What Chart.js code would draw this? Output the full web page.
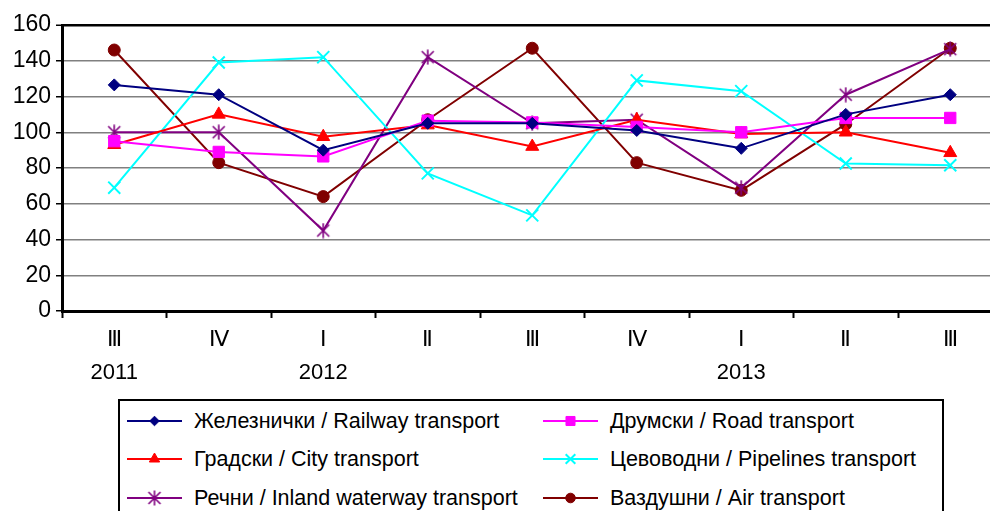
<!DOCTYPE html>
<html>
<head>
<meta charset="utf-8">
<script src="https://cdn.jsdelivr.net/npm/chart.js@4/dist/chart.umd.min.js"></script>
<style>
  html, body { margin: 0; padding: 0; background: #fff; }
  #wrap { position: relative; width: 990px; height: 511px; overflow: hidden; background: #fff; }
  #myChart { position: absolute; left: 0; top: 0; }
  #legend {
    position: absolute; left: 118px; top: 399px; width: 826px; height: 140px;
    box-sizing: border-box; border: 2px solid #000; background: #fff;
    font-family: "Liberation Sans", Arial, sans-serif; font-size: 21.5px; color: #000;
  }
  .item { position: absolute; height: 24px; line-height: 24px; white-space: nowrap; }
  .item canvas { position: absolute; left: 0; top: 0; }
  .item span { position: absolute; top: 0; }
</style>
</head>
<body>
<div id="wrap">
  <canvas id="myChart" width="1013" height="400"></canvas>
  <div id="legend"></div>
</div>
<script>
"use strict";

//Categories: quarters and the year under the first quarter shown of each year.
var quarters = ["Ⅲ", "Ⅳ", "Ⅰ", "Ⅱ", "Ⅲ", "Ⅳ", "Ⅰ", "Ⅱ", "Ⅲ"];
var years = ["2011", "", "2012", "", "", "", "2013", "", ""];

//Series values (indices).
var railway = [126.5, 121, 90, 105, 105, 101, 91, 110, 121];
var road = [95, 89, 86.5, 106.5, 105.5, 103, 100, 108, 108];
var city = [93, 110, 97.5, 104, 92, 107, 99, 100, 88.5];
var pipelines = [69, 139, 142, 77, 53.5, 129, 123, 82.5, 81.5];
var inland = [100, 100, 45, 142, 105, 107, 69, 121, 146.5];
var air = [146, 83, 64, 107, 147, 83, 67.5, 104.5, 147];

var seriesNames = [
    "Железнички / Railway transport",
    "Друмски / Road transport",
    "Градски / City transport",
    "Цевоводни / Pipelines transport",
    "Речни / Inland waterway transport",
    "Вазду\u0448ни / Air transport"
];

var yTicks = [0, 20, 40, 60, 80, 100, 120, 140, 160];

var FONT = "'Liberation Sans', Arial, sans-serif";

//Excel style asterisk marker (an X with a vertical bar).
function makeStar(color) {
    var c = document.createElement('canvas');
    c.width = 16;
    c.height = 16;
    var g = c.getContext('2d');
    g.strokeStyle = color;
    g.lineWidth = 1.6;
    g.beginPath();
    g.moveTo(2, 2); g.lineTo(14, 14);
    g.moveTo(14, 2); g.lineTo(2, 14);
    g.moveTo(8, 0.5); g.lineTo(8, 15.5);
    g.stroke();
    return c;
}

var labels = [];
for (var i = 0; i < quarters.length; i++) {
    labels.push([quarters[i], years[i]]);
}

function ds(label, data, color, style, radius, borderW) {
    return {
        label: label,
        data: data,
        borderColor: color,
        backgroundColor: color,
        pointBackgroundColor: color,
        pointBorderColor: color,
        pointStyle: style,
        pointRadius: radius,
        pointHoverRadius: radius,
        pointBorderWidth: borderW,
        borderWidth: 2,
        tension: 0,
        fill: false
    };
}

var datasets = [
    ds(seriesNames[0], railway, "#000080", "rectRot", 6, 1),
    ds(seriesNames[1], road, "#FF00FF", "rect", 8, 1),
    ds(seriesNames[2], city, "#FF0000", "triangle", 7.5, 1),
    ds(seriesNames[3], pipelines, "#00FFFF", "crossRot", 8.5, 2),
    ds(seriesNames[4], inland, "#800080", makeStar("#800080"), 8, 1),
    ds(seriesNames[5], air, "#800000", "circle", 6, 1)
];

var ctx = document.getElementById('myChart').getContext('2d');
var myChart = new Chart(ctx, {
    type: 'line',
    data: { labels: labels, datasets: datasets },
    options: {
        responsive: false,
        animation: false,
        devicePixelRatio: 1,
        layout: { padding: { top: 25, left: 0, right: 0, bottom: 0 } },
        plugins: { legend: { display: false }, tooltip: { enabled: false } },
        scales: {
            x: {
                offset: true,
                grid: {
                    offset: true,
                    drawOnChartArea: false,
                    drawTicks: true,
                    tickLength: 7,
                    tickColor: "#000",
                    tickWidth: 2
                },
                border: { color: "#000", width: 3 },
                ticks: {
                    autoSkip: false,
                    maxRotation: 0,
                    minRotation: 0,
                    padding: 5,
                    color: "#000",
                    font: { family: FONT, size: 22, lineHeight: 1.5 }
                },
                afterFit: function (scale) { scale.height = 89; }
            },
            y: {
                min: 0,
                max: 160,
                afterBuildTicks: function (scale) {
                    scale.ticks = yTicks.map(function (v) { return { value: v }; });
                },
                grid: {
                    color: function (c) { return c.tick && c.tick.value === 160 ? "#000" : "#808080"; },
                    lineWidth: function (c) { return c.tick && c.tick.value === 160 ? 2.5 : 1.5; },
                    tickLength: 6,
                    tickColor: "#000",
                    tickWidth: 1.5
                },
                border: { color: "#000", width: 3 },
                ticks: {
                    padding: 5,
                    color: "#000",
                    font: { family: FONT, size: 23 }
                },
                afterFit: function (scale) { scale.width = 62; }
            }
        }
    }
});

//Legend drawn as a bordered two column box, markers through Chart.js helpers.
var legend = document.getElementById('legend');
var legendPos = [[6, 8], [422, 8], [6, 46], [422, 46], [6, 85], [422, 85]];
datasets.forEach(function (d, k) {
    var item = document.createElement('div');
    item.className = 'item';
    item.style.left = legendPos[k][0] + 'px';
    item.style.top = legendPos[k][1] + 'px';
    var c = document.createElement('canvas');
    c.width = 58;
    c.height = 24;
    var g = c.getContext('2d');
    g.strokeStyle = d.borderColor;
    g.lineWidth = 2;
    g.beginPath();
    g.moveTo(1, 12);
    g.lineTo(56, 12);
    g.stroke();
    g.fillStyle = d.pointBackgroundColor;
    g.strokeStyle = d.pointBorderColor;
    g.lineWidth = d.pointBorderWidth;
    Chart.helpers.drawPoint(g, { pointStyle: d.pointStyle, radius: d.pointRadius * 0.8, rotation: 0, borderWidth: d.pointBorderWidth }, 28.5, 12);
    item.appendChild(c);
    var s = document.createElement('span');
    s.style.left = '68px';
    s.textContent = d.label;
    item.appendChild(s);
    legend.appendChild(item);
});
</script>
</body>
</html>
